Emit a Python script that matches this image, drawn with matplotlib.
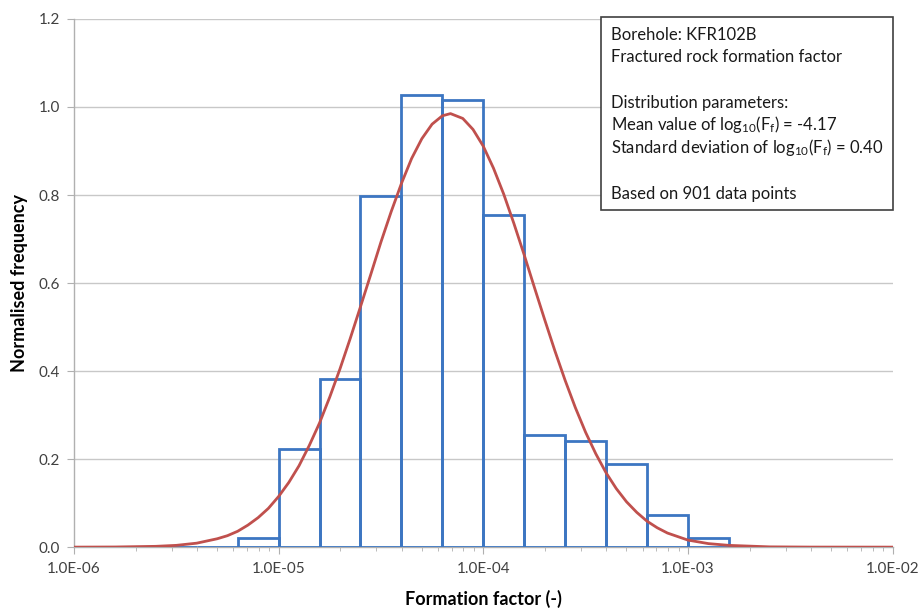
import numpy as np
import matplotlib
matplotlib.use('Agg')
import matplotlib.pyplot as plt
from matplotlib.patches import Rectangle
from matplotlib.ticker import LogLocator, FixedLocator, NullFormatter

plt.rcParams['font.family'] = ['Lato', 'DejaVu Sans']
plt.rcParams['mathtext.fontset'] = 'custom'
plt.rcParams['mathtext.rm'] = 'Lato'
plt.rcParams['mathtext.it'] = 'Lato:italic'

# histogram bins (log10 of formation factor) and normalised frequency
bin_edges_log = [-5.6, -5.4, -5.2, -5.0, -4.8, -4.6, -4.4, -4.2, -4.0,
                 -3.8, -3.6, -3.4, -3.2, -3.0, -2.8, -2.6]
bin_heights = [0.0, 0.0, 0.02, 0.222, 0.383, 0.798, 1.028, 1.015, 0.755,
               0.255, 0.24, 0.19, 0.073, 0.02, 0.0]

# fitted curve (log10 x, normalised frequency)
curve_log = [-6.0, -5.8, -5.6, -5.5, -5.4, -5.3, -5.25, -5.2, -5.15, -5.1,
             -5.05, -5.0, -4.95, -4.9, -4.85, -4.8, -4.75, -4.7, -4.65,
             -4.6, -4.55, -4.5, -4.45, -4.4, -4.35, -4.3, -4.25, -4.2,
             -4.16, -4.1, -4.05, -4.0, -3.95, -3.9, -3.85, -3.8, -3.75,
             -3.7, -3.65, -3.6, -3.55, -3.5, -3.45, -3.4, -3.35, -3.3,
             -3.25, -3.2, -3.15, -3.1, -3.0, -2.9, -2.8, -2.6, -2.4, -2.0]
curve_y = [0.0, 0.0003, 0.0018, 0.004, 0.009, 0.019, 0.026, 0.036, 0.050,
           0.067, 0.088, 0.115, 0.147, 0.185, 0.231, 0.282, 0.341, 0.405,
           0.474, 0.546, 0.619, 0.693, 0.762, 0.826, 0.883, 0.928, 0.961,
           0.980, 0.985, 0.974, 0.949, 0.911, 0.861, 0.802, 0.735, 0.664,
           0.590, 0.517, 0.446, 0.379, 0.317, 0.261, 0.212, 0.169, 0.133,
           0.103, 0.079, 0.059, 0.044, 0.032, 0.016, 0.008, 0.004, 0.0006,
           0.0001, 0.0]

xticks = [1e-6, 1e-5, 1e-4, 1e-3, 1e-2]
xticklabels = ['1.0E-06', '1.0E-05', '1.0E-04', '1.0E-03', '1.0E-02']
yticks = [0.0, 0.2, 0.4, 0.6, 0.8, 1.0, 1.2]

info_lines = ['Borehole: KFR102B',
              'Fractured rock formation factor',
              'Distribution parameters:',
              'Mean value of log$_{10}$(F$_{\\mathrm{f}}$) = -4.17',
              'Standard deviation of log$_{10}$(F$_{\\mathrm{f}}$) = 0.40',
              'Based on 901 data points']
info_rows = [0, 1, 3, 4, 5, 7]

edges = 10.0 ** np.array(bin_edges_log)

fig = plt.figure(figsize=(9.24, 6.12), dpi=100)
ax = fig.add_axes([0.080, 0.106, 0.886, 0.863])

for i, h in enumerate(bin_heights):
    ax.bar(edges[i], h, width=edges[i + 1] - edges[i], align='edge',
           fill=False, edgecolor='#3c76c2', linewidth=2.0, zorder=3)

ax.plot(10.0 ** np.array(curve_log), curve_y, color='#c0504d', lw=2.0, zorder=4)

ax.set_xscale('log')
ax.set_xlim(1e-6, 1e-2)
ax.set_ylim(0, 1.2)
ax.xaxis.set_major_locator(FixedLocator(xticks))
ax.set_xticklabels(xticklabels)
ax.xaxis.set_minor_locator(LogLocator(base=10, subs=np.arange(2, 10)))
ax.xaxis.set_minor_formatter(NullFormatter())
ax.set_yticks(yticks)
ax.set_yticklabels(['%.1f' % v for v in yticks])

ax.grid(axis='y', color='#c8c8c8', lw=1.0, zorder=0)
ax.set_axisbelow(True)
for s in ['top', 'right']:
    ax.spines[s].set_visible(False)
for s in ['left', 'bottom']:
    ax.spines[s].set_color('#b0b0b0')
    ax.spines[s].set_linewidth(1.0)

ax.tick_params(axis='x', which='major', length=5, color='#b0b0b0',
               labelsize=11, labelcolor='#404040', pad=6)
ax.tick_params(axis='x', which='minor', length=3, color='#b0b0b0')
ax.tick_params(axis='y', length=5, color='#b0b0b0', labelsize=11,
               labelcolor='#404040', pad=5)

ax.set_xlabel('Formation factor (-)', fontsize=13, fontweight='bold', labelpad=10)
ax.set_ylabel('Normalised frequency', fontsize=13, fontweight='bold', labelpad=8)

# info box
ax.add_patch(Rectangle((0.6435, 0.638), 0.3565, 0.366, transform=ax.transAxes,
                       facecolor='white', edgecolor='#404040', linewidth=1.2,
                       clip_on=False, zorder=6))
for row, line in zip(info_rows, info_lines):
    ax.text(0.656, 0.961 - row * 0.043, line, transform=ax.transAxes,
            ha='left', va='baseline', fontsize=12, color='#1a1a1a', zorder=7)

fig.savefig('out.png', dpi=100)
